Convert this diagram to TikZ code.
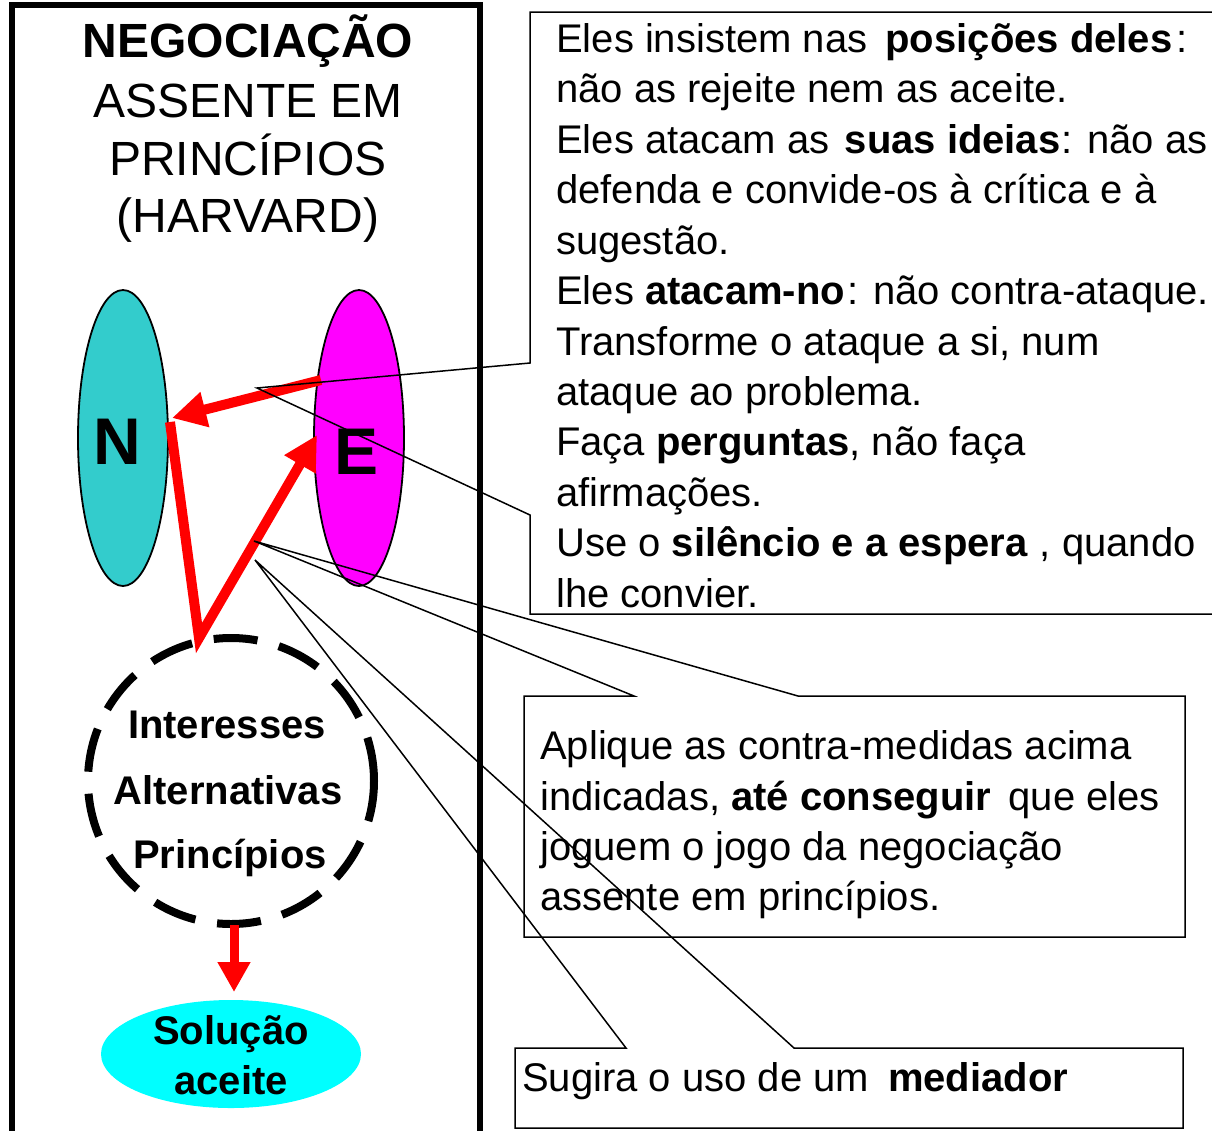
\documentclass[tikz,border=0pt]{standalone}
\usepackage{fontspec}
\setmainfont{Liberation Sans}
\usetikzlibrary{arrows.meta,shapes.geometric}
\definecolor{nteal}{HTML}{33CCCC}
\definecolor{emag}{HTML}{FF00FF}
\definecolor{scyan}{HTML}{00FFFF}
\definecolor{ared}{HTML}{FF0000}
\begin{document}
\begin{tikzpicture}[x=1pt,y=-1pt,
  frame/.style={draw=black,line width=6pt},
  ttl/.style={font=\fontsize{48}{58}\selectfont,inner sep=0pt,anchor=base},
  txt/.style={font=\fontsize{40}{48}\selectfont,inner sep=0pt,anchor=base west},
  ctxt/.style={font=\fontsize{40}{48}\selectfont\bfseries,inner sep=0pt,anchor=base},
  bigletter/.style={font=\fontsize{66}{70}\selectfont\bfseries,inner sep=0pt,anchor=base},
  blob/.style={ellipse,draw=black,line width=1.8pt,inner sep=0pt},
  redarrow/.style={draw=ared,line width=10pt,line join=miter,-{Triangle[length=34pt,width=34pt]}},
  dashring/.style={circle,draw=black,line width=8pt,dash pattern=on 44pt off 22pt,inner sep=0pt,minimum size=286pt},
  callout/.style={draw=black,line width=1.5pt,line join=miter}
]
\useasboundingbox (0,0) rectangle (1212,1130);
\clip (0,0) rectangle (1212,1130);
\fill[white] (0,0) rectangle (1212,1130);

% main frame
\draw[frame] (12,1150) -- (12,5) -- (480,5) -- (480,1150);

% title
\node[ttl,font=\fontsize{48}{58}\selectfont\bfseries] (t1) at (248,57) {NEGOCIAÇÃO};
\node[ttl] (t2) at (248,117) {ASSENTE EM};
\node[ttl] (t3) at (248,175) {PRINCÍPIOS};
\node[ttl] (t4) at (248,232) {(HARVARD)};

% N and E
\node[blob,fill=nteal,minimum width=90pt,minimum height=296pt] (nell) at (123,438) {};
\node[blob,fill=emag,minimum width=90pt,minimum height=296pt] (eell) at (359,438) {};
\node[bigletter] (nlet) at (117,464) {N};
\node[bigletter] (elet) at (357,474) {E};

% red arrows
\coordinate (a1s) at (321,380);
\coordinate (a1t) at (172,418);
\coordinate (a2s) at (170,422);
\coordinate (a2b) at (199,638);
\coordinate (a2t) at (317,435);
\draw[redarrow] (a1s) -- (a1t);
\draw[redarrow] (a2s) -- (a2b) -- (a2t);

% dashed ring
\node[dashring] (ring) at (231,781) {};
\node[ctxt] (i1) at (227,738) {Interesses};
\node[ctxt] (i2) at (228,804) {Alternativas};
\node[ctxt] (i3) at (230,868) {Princípios};

% solution
\node[ellipse,fill=scyan,minimum width=260pt,minimum height=108pt,inner sep=0pt] (sol) at (231,1054) {};
\node[ctxt] (s1) at (231,1044) {Solução};
\node[ctxt] (s2) at (231,1094) {aceite};
\coordinate (a3s) at (234,925);
\coordinate (a3t) at (234,992);
\draw[draw=ared,line width=9pt,-{Triangle[length=30pt,width=31pt]}] (a3s) -- (a3t);

% callout 1
\coordinate (c1tip) at (257,388);
\draw[callout] (1230,12) -- (530,12) -- (530,363) -- (c1tip) -- (530,515) -- (530,614) -- (1230,614);
\node[txt] (l1) at (556,52) {Eles insistem nas\hspace{7pt} \textbf{posições deles}\hspace{4pt}:};
\node[txt] (l2) at (556,102) {não as rejeite nem as aceite.};
\node[txt] (l3) at (556,153) {Eles atacam as\hspace{4pt} \textbf{suas ideias}\hspace{1pt}: não as};
\node[txt] (l4) at (556,203) {defenda e convide-os à crítica e à};
\node[txt] (l5) at (556,254) {sugestão.};
\node[txt] (l6) at (556,304) {Eles \textbf{atacam-no}\hspace{2pt}: não contra-ataque.};
\node[txt] (l7) at (556,355) {Transforme o ataque a si, num};
\node[txt] (l8) at (556,405) {ataque ao problema.};
\node[txt] (l9) at (556,455) {Faça \textbf{perguntas}, não faça};
\node[txt] (l10) at (556,506) {afirmações.};
\node[txt] (l11) at (556,556) {Use o \textbf{silêncio e a espera}\hspace{1pt} , quando};
\node[txt] (l12) at (556,607) {lhe convier.};

% callout 2
\coordinate (c2tip) at (254,541);
\draw[callout] (634,696) -- (524,696) -- (524,937) -- (1185,937) -- (1185,696) -- (798,696) -- (c2tip) -- cycle;
\node[txt] (m1) at (540,759) {Aplique as contra-medidas acima};
\node[txt] (m2) at (540,810) {indicadas, \textbf{até conseguir}\hspace{6pt} que eles};
\node[txt] (m3) at (540,860) {joguem o jogo da negociação};
\node[txt] (m4) at (540,910) {assente em princípios.};

% callout 3
\coordinate (c3tip) at (255,560);
\draw[callout] (626,1048) -- (515,1048) -- (515,1128) -- (1183,1128) -- (1183,1048) -- (794,1048) -- (c3tip) -- cycle;
\node[txt] (b1) at (522,1091) {Sugira o uso de um\hspace{8pt} \textbf{mediador}};
\end{tikzpicture}
\end{document}
